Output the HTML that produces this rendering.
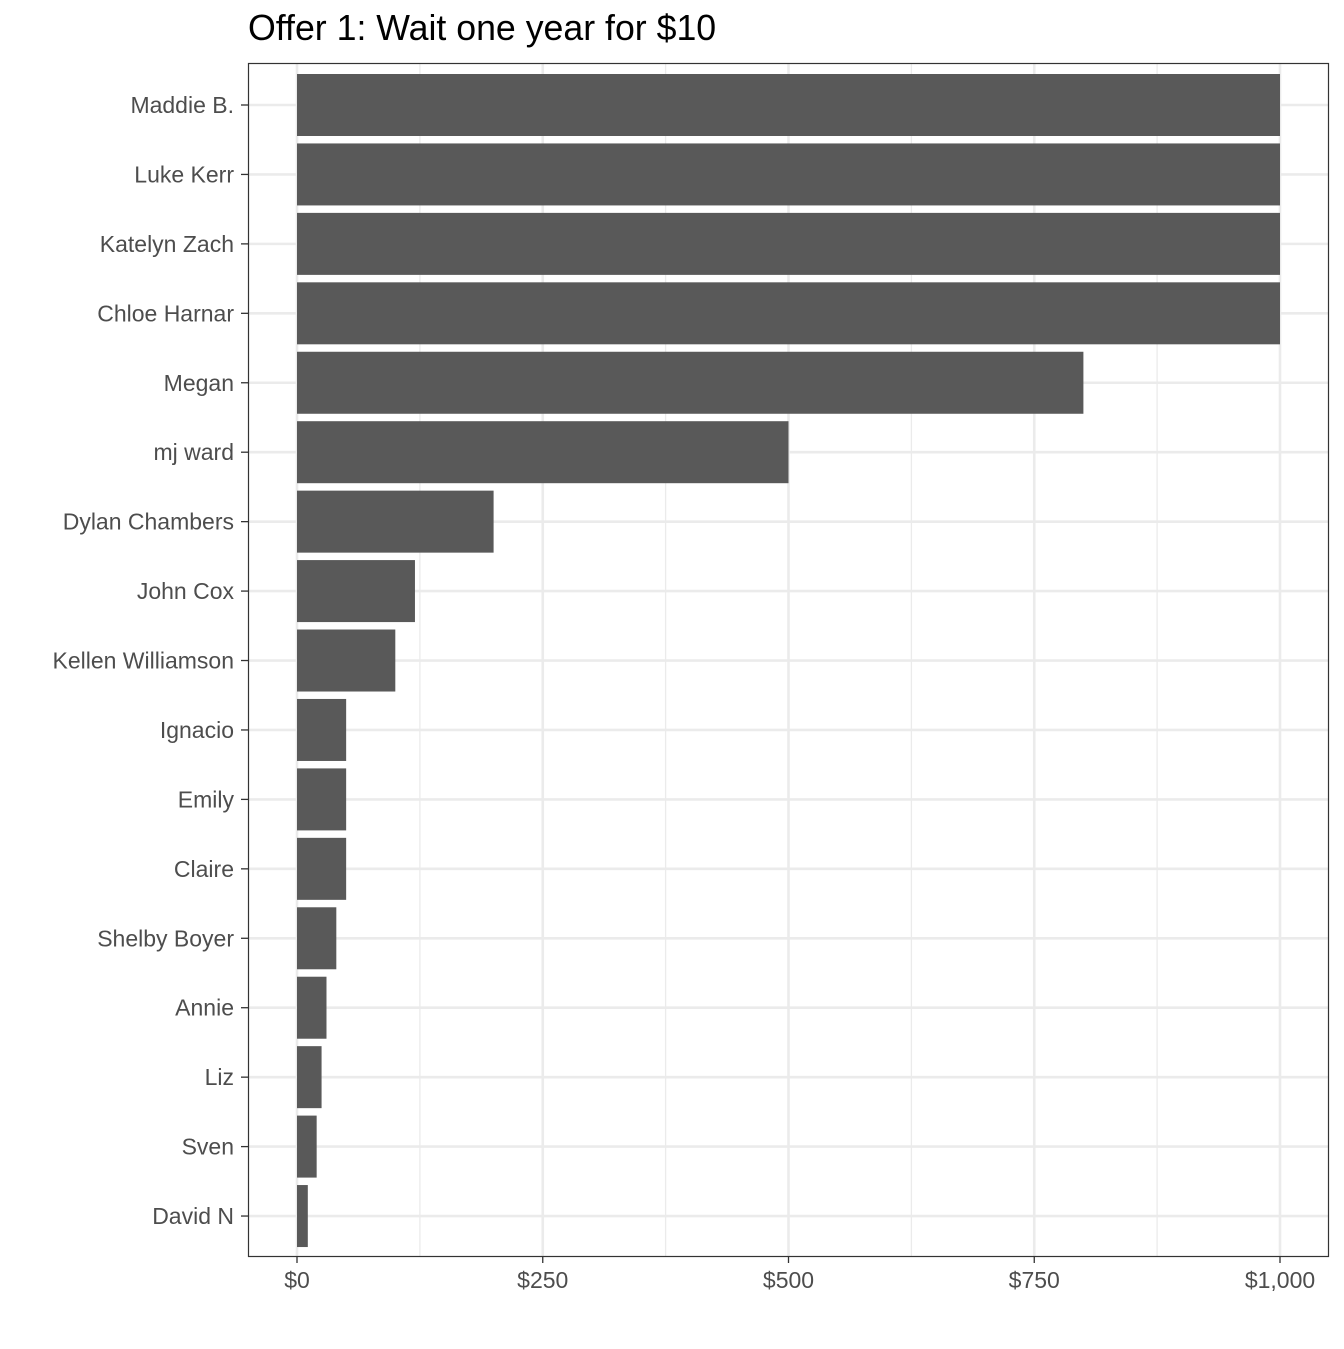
<!DOCTYPE html>
<html><head><meta charset="utf-8"><style>
body{margin:0;background:#fff;font-family:"Liberation Sans",Arial,sans-serif;}
</style></head><body>
<svg id="chart" width="1344" height="1344" xmlns="http://www.w3.org/2000/svg">
<text x="248" y="40" font-size="35.7" fill="#000">Offer 1: Wait one year for $10</text>
<g id="grid"></g><g id="bars"></g><g id="yaxis"></g><g id="xaxis"></g>
<rect x="248.5" y="63.5" width="1080" height="1193" fill="none" stroke="#333" stroke-width="1.2"/>
</svg>
<script>
const categories=["Maddie B.","Luke Kerr","Katelyn Zach","Chloe Harnar","Megan","mj ward","Dylan Chambers","John Cox","Kellen Williamson","Ignacio","Emily","Claire","Shelby Boyer","Annie","Liz","Sven","David N"];
const values=[1000,1000,1000,1000,800,500,200,120,100,50,50,50,40,30,25,20,11];
const xTicks=[0,250,500,750,1000];
const xTickLabels=["$0","$250","$500","$750","$1,000"];
const NS="http://www.w3.org/2000/svg";
const x=v=>297+v*0.983;
const y=i=>105+i*69.44;
function mk(t,a,p){const e=document.createElementNS(NS,t);for(const k in a)e.setAttribute(k,a[k]);p.appendChild(e);return e;}
const grid=document.getElementById('grid'),bars=document.getElementById('bars'),ya=document.getElementById('yaxis'),xa=document.getElementById('xaxis');
mk('rect',{x:248,y:63,width:1081,height:1193,fill:'#fff'},grid);
for(let i=0;i<xTicks.length-1;i++){const m=mk('line',{x1:x((xTicks[i]+xTicks[i+1])/2),x2:x((xTicks[i]+xTicks[i+1])/2),y1:63,y2:1256,stroke:'#ebebeb','stroke-width':1.3},grid);

}
xTicks.forEach((v,i)=>{const g=mk('line',{x1:x(v),x2:x(v),y1:63,y2:1256,stroke:'#ebebeb','stroke-width':2.6},grid);


const t=mk('line',{x1:x(v),x2:x(v),y1:1256,y2:1263,stroke:'#333','stroke-width':1.3},xa);


const l=mk('text',{x:x(v),y:1288,'font-size':23,fill:'#4d4d4d','text-anchor':'middle'},xa);l.textContent=xTickLabels[i];

});
categories.forEach((c,i)=>{const g=mk('line',{x1:248,x2:1329,y1:y(i),y2:y(i),stroke:'#ebebeb','stroke-width':2.6},grid);


const b=mk('rect',{x:x(0),y:y(i)-31,width:x(values[i])-x(0),height:62,fill:'#595959'},bars);


const t=mk('line',{x1:241,x2:248,y1:y(i),y2:y(i),stroke:'#333','stroke-width':1.3},ya);


const l=mk('text',{x:234,y:y(i)+8,'font-size':23,fill:'#4d4d4d','text-anchor':'end'},ya);l.textContent=c;

});
</script>
</body></html>
